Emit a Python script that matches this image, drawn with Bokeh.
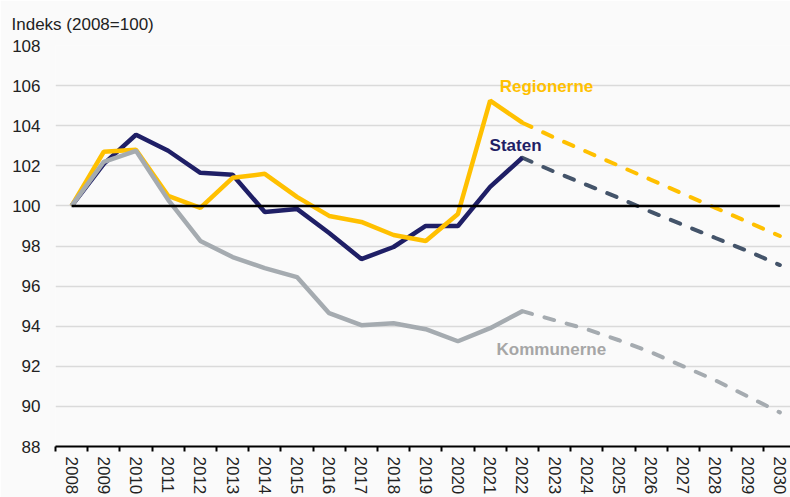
import numpy as np
from bokeh.plotting import figure
from bokeh.models import FixedTicker, Label, Range1d, Title
from bokeh.embed import file_html
from bokeh.resources import INLINE

# ---- data ----
years = list(range(2008, 2031))
last_actual = 2022
staten = [100, 102.1, 103.55, 102.75, 101.65, 101.55, 99.7, 99.85, 98.65, 97.35,
          97.95, 99.0, 99.0, 100.95, 102.4,
          101.7, 101.05, 100.4, 99.7, 99.05, 98.4, 97.75, 97.05]
regionerne = [100, 102.7, 102.8, 100.5, 99.9, 101.4, 101.6, 100.45, 99.5, 99.2,
              98.55, 98.25, 99.6, 105.25, 104.15,
              103.4, 102.7, 102.0, 101.3, 100.6, 99.9, 99.2, 98.5]
kommunerne = [100, 102.2, 102.75, 100.3, 98.25, 97.45, 96.9, 96.45, 94.65, 94.05,
              94.15, 93.85, 93.25, 93.9, 94.75,
              94.3, 93.85, 93.3, 92.7, 92.0, 91.3, 90.5, 89.7]
base_value = 100
y_ticks = list(range(88, 109, 2))
title_text = "Indeks (2008=100)"

FONT = "Liberation Sans"
BG = "#FAFAFA"
NAVY = "#1F1F66"
NAVY_DASH = "#44546A"
GOLD = "#FFC000"
GRAY = "#A5ABB0"

split = years.index(last_actual)

p = figure(width=790, height=497, output_backend="svg", toolbar_location=None,
           x_range=Range1d(2007.5, 2030.33), y_range=Range1d(88, 108),
           min_border_left=55, min_border_right=0, min_border_top=45,
           min_border_bottom=49)
p.background_fill_color = BG
p.border_fill_color = BG
p.outline_line_color = None

p.title = Title(text=title_text, align="left", offset=-44, standoff=24,
                text_font=FONT, text_font_size="17px", text_font_style="normal",
                text_color="#222222")

# axes
p.xaxis.ticker = FixedTicker(ticks=years, minor_ticks=[y - 0.5 for y in years])
p.xaxis.major_label_orientation = "vertical"
p.xaxis.major_tick_out = 0
p.xaxis.major_tick_in = 0
p.xaxis.minor_tick_out = 5
p.xaxis.minor_tick_in = 0
p.xaxis.minor_tick_line_color = "black"
p.xaxis.minor_tick_line_width = 2
p.xaxis.axis_line_color = "black"
p.xaxis.axis_line_width = 2
p.xaxis.major_label_standoff = 5
p.xaxis.major_label_text_font = FONT
p.xaxis.major_label_text_font_size = "17px"
p.xaxis.major_label_text_color = "#222222"

p.yaxis.ticker = FixedTicker(ticks=y_ticks)
p.yaxis.axis_line_color = None
p.yaxis.major_tick_out = 0
p.yaxis.major_tick_in = 0
p.yaxis.minor_tick_out = 0
p.yaxis.minor_tick_in = 0
p.yaxis.major_label_standoff = 15
p.yaxis.major_label_text_font = FONT
p.yaxis.major_label_text_font_size = "17px"
p.yaxis.major_label_text_color = "#222222"

p.xgrid.grid_line_color = None
p.ygrid.ticker = FixedTicker(ticks=y_ticks)
p.ygrid.grid_line_color = "#DADADA"
p.ygrid.grid_line_width = 1.5

# lines
dash = "10 13"
p.line(years[split:], kommunerne[split:], line_color=GRAY, line_width=4,
       line_dash=dash, line_cap="round")
p.line(years[split:], staten[split:], line_color=NAVY_DASH, line_width=4,
       line_dash=dash, line_cap="round")
p.line(years[split:], regionerne[split:], line_color=GOLD, line_width=4,
       line_dash=dash, line_cap="round")

p.line(years[:split + 1], staten[:split + 1], line_color=NAVY, line_width=4.5)
p.line(years[:split + 1], regionerne[:split + 1], line_color=GOLD, line_width=4.5)
p.line(years[:split + 1], kommunerne[:split + 1], line_color=GRAY, line_width=4.5)

p.line([years[0], years[-1]], [base_value, base_value], line_color="black", line_width=2.5)

# labels
for txt, x, y, col in [("Regionerne", 2022.75, 105.96, GOLD),
                       ("Staten", 2021.79, 103.03, NAVY),
                       ("Kommunerne", 2022.9, 92.85, "#A6A6A6")]:
    p.add_layout(Label(x=x, y=y, text=txt, text_color=col, text_font=FONT,
                       text_font_size="17px", text_font_style="bold",
                       text_align="center", text_baseline="middle"))

open("out.html", "w").write(file_html(p, INLINE))
